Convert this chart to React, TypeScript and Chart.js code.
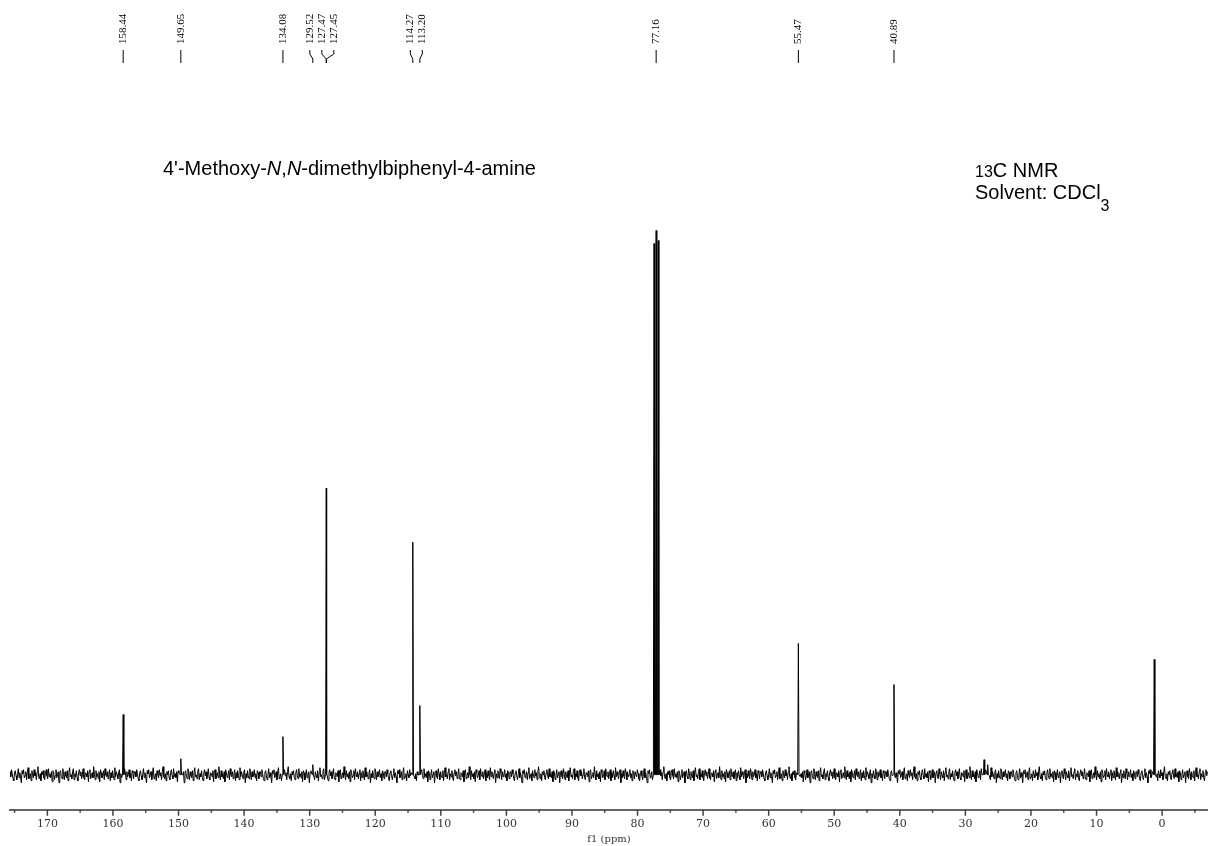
import React, { useEffect, useRef } from "react";
import { Chart, registerables } from "chart.js";

Chart.register(...registerables);

// ---- data ----
const peakShifts = [158.44, 149.65, 134.08, 129.52, 127.47, 127.45, 114.27, 113.2, 77.48, 77.16, 76.84, 55.47, 40.89, 27.15, 26.6, 1.2];
const peakHeights = [60, 16, 38, 10, 286, 284, 232, 69, 530, 543, 533, 131, 90, 15, 10, 115];
const peakLabels = ["158.44", "149.65", "134.08", "129.52", "127.47", "127.45", "114.27", "113.20", "77.16", "55.47", "40.89"];
const noisePattern = [
  3, -2, 5, 1, -4, -6, 2, 4, -1, -5, 0, 6, -3, 2, -2, -8, 4, 1, 5, -3, -1, 3, -5, 2, 7, -4, -2, 1, -6, 4,
  0, -3, 5, -1, 2, -5, 3, 8, -2, -4, 1, -6, 3, 0, 4, -3, -5, 2, 5, -1, -4, 6, -2, 1, -3, 3, -7, 4, 2, -5,
  -1, 5, -3, 0, 3, -8, 2, 4, -2, -4, 6, 1, -5, 3, -1, -3, 4, -6, 2, 7, -2, 0, -4, 3, 6, -5, 1, -2, 4, -3,
  -6, 2, 5, -1, 3, -4, 0, 6, -3, -5, 2, 1, -2, 4, -7, 3, 5, -4, -1, 2, -3, 8, 0, -5, 4, -2, 1, -4, 3, -7,
  5, 2, -3, -1, 4, -5, 6, 0, -2, 3, -4, 1, 5, -6, 2, -3, 4, -1, -5, 7, -2, 3, 0, -4, 2, 5, -8, 1, -3, 4,
  -1, -4, 6, 2, -5, 3, -2, 0, 5, -3, 1, -6, 4, 2, -4, 3,
];
const axisMin = -7;
const axisMax = 175.7;
const sampleStep = 0.115;

function buildSpectrum() {
  const pts: { x: number; y: number }[] = [];
  for (let i = 0; ; i++) {
    const x = axisMax - i * sampleStep;
    if (x < axisMin) break;
    if (peakShifts.some((p) => Math.abs(p - x) < 0.2)) continue;
    pts.push({ x, y: noisePattern[i % noisePattern.length] });
  }
  const hw = 0.1;
  peakShifts.forEach((p, k) => {
    pts.push({ x: p + hw, y: 0 }, { x: p, y: peakHeights[k] }, { x: p - hw, y: 0 });
  });
  pts.sort((a, b) => b.x - a.x);
  return pts;
}

function spreadLabels(px: number[], gap: number) {
  let groups = px.map((p, i) => ({ start: i, end: i, center: p }));
  let changed = true;
  while (changed) {
    changed = false;
    for (let g = 0; g + 1 < groups.length; g++) {
      const a = groups[g];
      const b = groups[g + 1];
      const na = a.end - a.start + 1;
      const nb = b.end - b.start + 1;
      const aRight = a.center + ((na - 1) / 2) * gap;
      const bLeft = b.center - ((nb - 1) / 2) * gap;
      if (bLeft - aRight < gap) {
        let sum = 0;
        for (let k = a.start; k <= b.end; k++) sum += px[k];
        const merged = { start: a.start, end: b.end, center: sum / (b.end - a.start + 1) };
        groups = [...groups.slice(0, g), merged, ...groups.slice(g + 2)];
        changed = true;
        break;
      }
    }
  }
  const pos: number[] = new Array(px.length);
  for (const g of groups) {
    const n = g.end - g.start + 1;
    for (let k = g.start; k <= g.end; k++) pos[k] = g.center + (k - g.start - (n - 1) / 2) * gap;
  }
  return pos;
}

const annotPlugin = {
  id: "nmrAnnot",
  afterDraw(chart: any) {
    const ctx = chart.ctx as CanvasRenderingContext2D;
    const xs = chart.scales.x;
    const yb = chart.chartArea.bottom;
    ctx.save();
    ctx.strokeStyle = "#444";
    ctx.lineWidth = 1.5;
    for (const t of xs.ticks) {
      const px = xs.getPixelForValue(t.value);
      const major = Math.round(t.value) % 10 === 0;
      ctx.beginPath();
      ctx.moveTo(px, yb);
      ctx.lineTo(px, yb + (major ? 6 : 3));
      ctx.stroke();
    }
    const px = peakLabels.map((s) => xs.getPixelForValue(parseFloat(s)));
    const pos = spreadLabels(px, 12);
    ctx.fillStyle = "#000";
    ctx.strokeStyle = "#000";
    ctx.lineWidth = 1;
    ctx.font = '11px "Liberation Serif"';
    peakLabels.forEach((s, k) => {
      const lx = pos[k];
      ctx.save();
      ctx.translate(lx, 44);
      ctx.rotate(-Math.PI / 2);
      ctx.textAlign = "left";
      ctx.textBaseline = "middle";
      ctx.fillText(s, 0, 0);
      ctx.restore();
      ctx.beginPath();
      ctx.moveTo(lx, 50);
      ctx.lineTo(lx, 54);
      ctx.lineTo(px[k], 59);
      ctx.lineTo(px[k], 63);
      ctx.stroke();
    });
    ctx.restore();
  },
};

export default function App() {
  const ref = useRef<HTMLCanvasElement>(null);
  useEffect(() => {
    document.body.style.margin = "0";
    const chart = new Chart(ref.current!, {
      type: "line",
      data: {
        datasets: [
          {
            data: buildSpectrum(),
            borderColor: "#000",
            borderWidth: 1,
            pointRadius: 0,
            tension: 0,
          },
        ],
      },
      options: {
        animation: false,
        responsive: true,
        maintainAspectRatio: false,
        layout: { padding: { left: 10, right: 0, top: 20, bottom: 0 } },
        plugins: { legend: { display: false }, tooltip: { enabled: false } },
        scales: {
          x: {
            type: "linear",
            reverse: true,
            min: axisMin,
            max: axisMax,
            grid: { display: true, drawOnChartArea: false, drawTicks: true, tickLength: 6, color: "rgba(0,0,0,0)" },
            border: { display: true, color: "#666", width: 2 },
            ticks: {
              stepSize: 5,
              includeBounds: false,
              autoSkip: false,
              maxRotation: 0,
              padding: 2,
              color: "#333",
              font: { family: "DejaVu Serif", size: 11 },
              callback: (v: any) => (Math.round(v) % 10 === 0 ? String(Math.round(v)) : ""),
            },
            title: {
              display: true,
              text: "f1 (ppm)",
              color: "#333",
              font: { family: "DejaVu Serif", size: 10 },
              padding: { top: 0, bottom: 1 },
            },
          },
          y: { display: false, min: -35, max: 753 },
        },
      },
      plugins: [annotPlugin],
    });
    return () => chart.destroy();
  }, []);

  const sans = '"Liberation Sans", Arial, sans-serif';
  return (
    <div style={{ position: "fixed", left: 0, top: 0, width: 1208, height: 846, background: "#fff" }}>
      <canvas ref={ref} />
      <div style={{ position: "absolute", left: 163, top: 158, fontFamily: sans, fontSize: 20, lineHeight: "20px", whiteSpace: "nowrap", color: "#000" }}>
        4'-Methoxy-<i>N</i>,<i>N</i>-dimethylbiphenyl-4-amine
      </div>
      <div style={{ position: "absolute", left: 975, top: 160, fontFamily: sans, fontSize: 20, lineHeight: "20px", whiteSpace: "nowrap", color: "#000" }}>
        <span style={{ fontSize: 16 }}>13</span>C NMR
      </div>
      <div style={{ position: "absolute", left: 975, top: 182, fontFamily: sans, fontSize: 20, lineHeight: "20px", whiteSpace: "nowrap", color: "#000" }}>
        Solvent: CDCl<span style={{ fontSize: 16, position: "relative", top: 12 }}>3</span>
      </div>
    </div>
  );
}
